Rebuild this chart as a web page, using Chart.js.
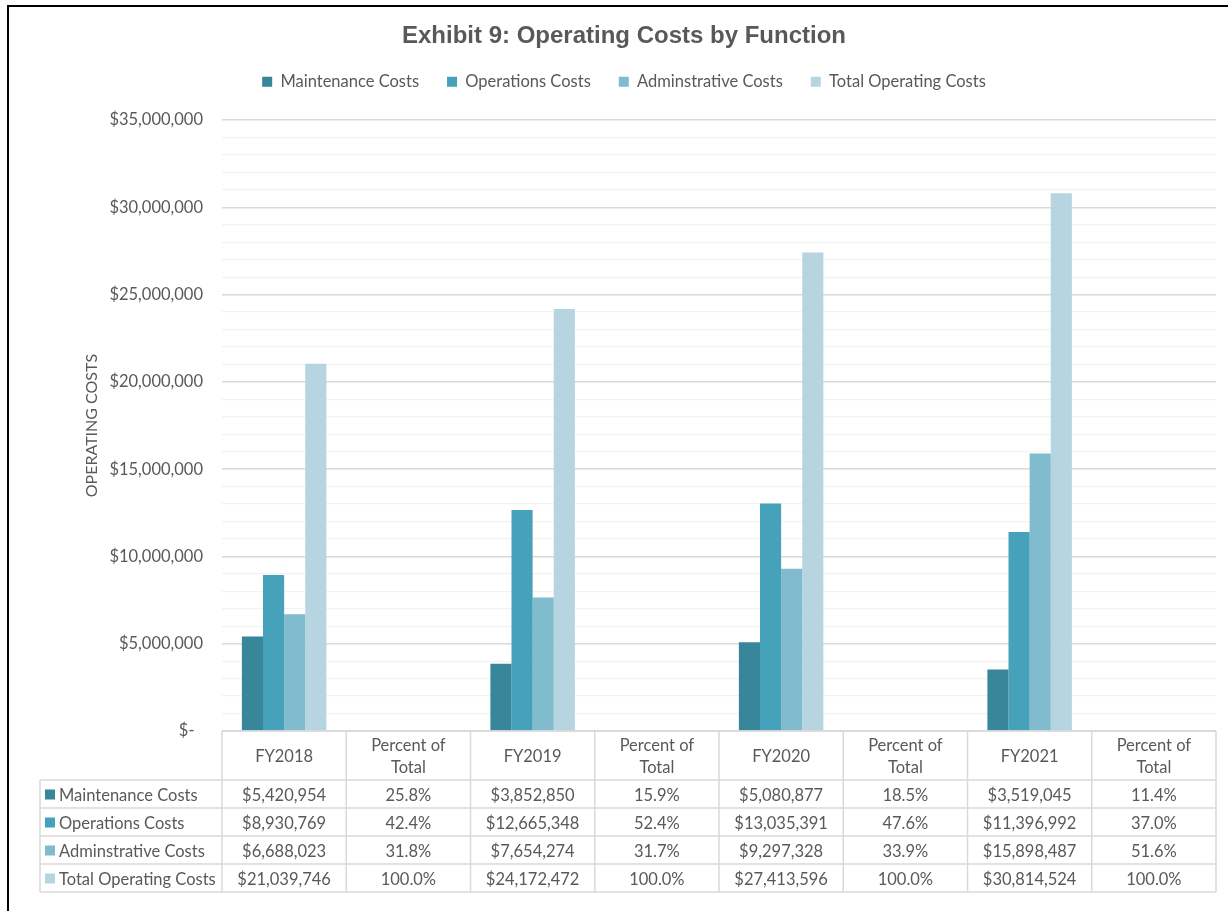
<!DOCTYPE html>
<html>
<head>
<meta charset="utf-8">
<script src="https://cdn.jsdelivr.net/npm/chart.js@4.4.0/dist/chart.umd.min.js"></script>
<style>
  body { margin: 0; background: #fff; overflow: hidden; }
  #frame { position: absolute; left: 7px; top: 5px; width: 1240px; height: 920px;
           border-left: 2px solid #000; border-top: 2px solid #000; }
  #costChart { position: absolute; left: 0; top: 0; }
</style>
</head>
<body>
<div id="frame"></div>
<canvas id="costChart" width="1228" height="911"></canvas>
<script>
// columnas del eje x (años y su porcentaje)
const columns = ['FY2018', 'Percent of Total', 'FY2019', 'Percent of Total',
                 'FY2020', 'Percent of Total', 'FY2021', 'Percent of Total'];
const seriesNames = ['Maintenance Costs', 'Operations Costs', 'Adminstrative Costs', 'Total Operating Costs'];
const seriesColors = ['#378699', '#46A2BA', '#80BBCE', '#B7D5E0'];

// costos por año fiscal
const maintenanceCosts = [5420954, 3852850, 5080877, 3519045];
const operationsCosts = [8930769, 12665348, 13035391, 11396992];
const adminCosts = [6688023, 7654274, 9297328, 15898487];
const totalCosts = [21039746, 24172472, 27413596, 30814524];

// porcentaje del total
const maintenancePct = [25.8, 15.9, 18.5, 11.4];
const operationsPct = [42.4, 52.4, 47.6, 37.0];
const adminPct = [31.8, 31.7, 33.9, 51.6];
const totalPct = [100.0, 100.0, 100.0, 100.0];

// etiquetas principales del eje y
const yMajorTicks = [0, 5000000, 10000000, 15000000, 20000000, 25000000, 30000000, 35000000];

const costRows = [maintenanceCosts, operationsCosts, adminCosts, totalCosts];
const pctRows = [maintenancePct, operationsPct, adminPct, totalPct];

const textColor = '#595959';
const fontFamily = 'Lato, "Open Sans", sans-serif';
const fontSize = 16.5;

// valores intercalados: año con barra, columna de porcentaje vacía
function interleave(values) {
  const out = [];
  values.forEach(v => { out.push(v); out.push(null); });
  return out;
}

function money(v) {
  return '$' + v.toLocaleString('en-US');
}

// tabla de datos debajo del gráfico
const tablePlugin = {
  id: 'dataTable',
  afterDraw(chart) {
    const ctx = chart.ctx;
    const xs = chart.scales.x;
    const area = chart.chartArea;
    const colW = (area.right - area.left) / columns.length;
    const headTop = area.bottom;
    const headH = 49;
    const rowH = 28;
    const labelLeft = 40;
    const bottom = headTop + headH + rowH * seriesNames.length;

    ctx.save();
    ctx.strokeStyle = '#D9D9D9';
    ctx.lineWidth = 1.5;
    ctx.beginPath();
    ctx.moveTo(area.left, headTop);
    ctx.lineTo(area.right, headTop);
    for (let r = 0; r <= seriesNames.length; r++) {
      const y = headTop + headH + r * rowH;
      ctx.moveTo(labelLeft, y);
      ctx.lineTo(area.right, y);
    }
    ctx.moveTo(labelLeft, headTop + headH);
    ctx.lineTo(labelLeft, bottom);
    for (let c = 0; c <= columns.length; c++) {
      const x = area.left + c * colW;
      ctx.moveTo(x, headTop);
      ctx.lineTo(x, bottom);
    }
    ctx.stroke();

    ctx.fillStyle = textColor;
    ctx.font = fontSize + 'px ' + fontFamily;
    ctx.textAlign = 'center';
    ctx.textBaseline = 'middle';

    // encabezados
    columns.forEach((name, i) => {
      const cx = xs.getPixelForValue(i);
      const cy = headTop + headH / 2 + 1;
      if (name.startsWith('Percent')) {
        ctx.fillText('Percent of', cx, cy - 11);
        ctx.fillText('Total', cx, cy + 11);
      } else {
        ctx.fillText(name, cx, cy);
      }
    });

    // filas
    seriesNames.forEach((name, r) => {
      const cy = headTop + headH + r * rowH + rowH / 2 + 1.5;
      ctx.fillStyle = seriesColors[r];
      ctx.fillRect(labelLeft + 5, cy - 6, 10, 10);
      ctx.fillStyle = textColor;
      ctx.textAlign = 'left';
      ctx.fillText(name, labelLeft + 19, cy);
      ctx.textAlign = 'center';
      costRows[r].forEach((v, k) => {
        ctx.fillText(money(v), xs.getPixelForValue(k * 2), cy);
        ctx.fillText(pctRows[r][k].toFixed(1) + '%', xs.getPixelForValue(k * 2 + 1), cy);
      });
    });
    ctx.restore();
  }
};

const data = {
  labels: columns,
  datasets: seriesNames.map((name, i) => ({
    label: name,
    data: interleave(costRows[i]),
    backgroundColor: seriesColors[i],
    borderWidth: 0
  }))
};

const config = {
  type: 'bar',
  data: data,
  options: {
    responsive: false,
    animation: false,
    devicePixelRatio: 1,
    layout: { padding: { left: 32, right: 12, top: 0, bottom: 180 } },
    datasets: { bar: { categoryPercentage: 0.68, barPercentage: 1 } },
    plugins: {
      title: {
        display: true,
        text: 'Exhibit 9: Operating Costs by Function',
        color: textColor,
        font: { family: '"Liberation Sans", Arial, sans-serif', size: 24, weight: 'bold', lineHeight: 0.733 },
        padding: { top: 28, bottom: 0 }
      },
      legend: {
        position: 'top',
        labels: {
          color: textColor,
          font: { family: fontFamily, size: fontSize },
          boxWidth: 10,
          boxHeight: 10,
          padding: 28
        }
      },
      // separador entre la leyenda y el área del gráfico
      subtitle: {
        display: true,
        text: '',
        weight: 500,
        font: { size: 1, lineHeight: 1 },
        padding: { top: 0, bottom: 19 }
      },
      tooltip: { enabled: false }
    },
    scales: {
      x: { display: false },
      y: {
        min: 0,
        max: 35000000,
        afterFit(scale) { scale.width = 190; },
        border: { display: false },
        grid: {
          drawTicks: false,
          color: c => yMajorTicks.includes(c.tick.value) ? '#D9D9D9' : '#F2F2F2',
          lineWidth: c => yMajorTicks.includes(c.tick.value) ? 1.5 : 1.2
        },
        ticks: {
          stepSize: 1000000,
          autoSkip: false,
          padding: 19,
          color: textColor,
          font: { family: fontFamily, size: fontSize },
          callback: v => {
            if (!yMajorTicks.includes(v)) return '';
            return v === 0 ? '$-  ' : money(v);
          }
        },
        title: {
          display: true,
          text: 'OPERATING COSTS',
          color: textColor,
          font: { family: fontFamily, size: 16 },
          padding: { top: 50, bottom: 0 }
        }
      }
    }
  },
  plugins: [tablePlugin]
};

const ctx = document.getElementById('costChart').getContext('2d');
const costChart = new Chart(ctx, config);
</script>
</body>
</html>
